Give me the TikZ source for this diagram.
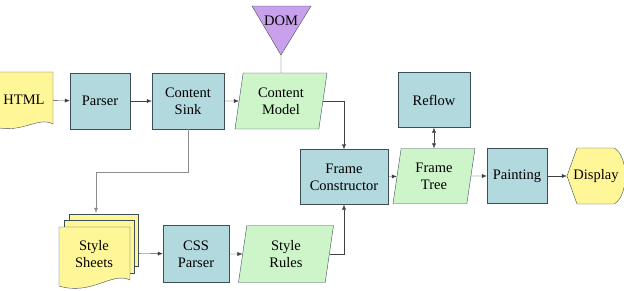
\documentclass[tikz,border=0pt]{standalone}
\usepackage{fontspec}
\setmainfont{Liberation Serif}
\newfontfamily\diagfont{Liberation Serif}
\usetikzlibrary{positioning,calc,shapes.geometric,arrows.meta}
\definecolor{boxblue}{RGB}{178,217,222}
\definecolor{paragreen}{RGB}{206,245,202}
\definecolor{docyellow}{RGB}{255,246,152}
\definecolor{dompurple}{RGB}{200,160,236}
\definecolor{edge}{RGB}{62,78,88}

\begin{document}
\begin{tikzpicture}[x=1pt,y=-1pt,font=\diagfont\fontsize{14.5}{17}\selectfont,
  box/.style={draw=edge,fill=boxblue,minimum width=60pt,minimum height=56pt,align=center,inner sep=0pt},
  para/.style={trapezium,trapezium left angle=73,trapezium right angle=107,trapezium stretches body,
    draw=edge,fill=paragreen,minimum width=92pt,minimum height=56pt,align=center,inner sep=0pt},
  ghost/.style={minimum width=58pt,minimum height=56pt,align=center,inner sep=0pt},
  flow/.style={-{Latex[length=5pt,width=4pt]},draw=black!75},
]
\useasboundingbox (0,0) rectangle (624,290);

% upper row
\draw[edge,fill=docyellow] (-5,72) -- (53,72) -- (53,124) .. controls (38,116) and (22,134) .. (-5,127) -- cycle;
\node[ghost] (html) at (24,100) {HTML};
\node[box] (parser) at (100,101) {Parser};
\node[box,minimum width=72pt] (sink) at (188,101) {Content\\Sink};
\node[para] (model) at (281,101) {Content\\Model};
\draw[edge,fill=dompurple] (252,6) -- (311,6) -- (281,55) -- cycle;
\node (dom) at (281,21) {DOM};
\coordinate (domtip) at (281,55);
\node[box,minimum width=72pt,minimum height=55pt] (reflow) at (434,100) {Reflow};

% middle row
\node[box,minimum width=88pt,minimum height=55pt] (frame) at (344,177) {Frame\\Constructor};
\node[para,minimum width=82pt,minimum height=55pt] (tree) at (434,176) {Frame\\Tree};
\node[box,minimum height=55pt] (paint) at (517,176) {Painting};
\draw[edge,fill=docyellow] (567,176) -- (577,148) -- (614,148) .. controls (629,156) and (629,196) .. (614,204) -- (577,204) -- cycle;
\node[ghost] (display) at (596,176) {Display};

% lower row
\node[box,minimum width=66pt,minimum height=57pt] (cssp) at (196,254) {CSS\\Parser};
\node[para,minimum width=95pt,minimum height=57pt] (rules) at (286,254) {Style\\Rules};
\node[ghost,minimum width=74pt,minimum height=80pt] (sheets) at (96,253) {};

% connectors
\draw[flow] (html) -- (parser);
\draw[flow] (parser) -- (sink);
\draw[flow] (sink) -- (model);
\draw[draw=black!75] (domtip) -- (model.north);
\draw[flow] (model.east) -| (frame.north);
\draw[{Latex[length=5pt,width=4pt]}-{Latex[length=5pt,width=4pt]},draw=black!75] (reflow) -- (tree);
\draw[flow] (frame) -- (tree);
\draw[flow] (tree) -- (paint);
\draw[flow] (paint) -- (display);
\draw[flow,draw=black!45] (sink.south) -- ++(0,43) -| (sheets.north);
\draw[flow] (sheets) -- (cssp);
\draw[flow] (cssp) -- (rules);
\draw[flow] (rules.east) -| (frame.south);

% stacked sheets
\draw[edge,fill=docyellow] (69,214) rectangle (138,266);
\draw[edge,fill=docyellow] (64,220) rectangle (134,273);
\draw[edge,fill=docyellow] (59,227) -- (130,227) -- (130,280) .. controls (112,271) and (92,296) .. (59,286) -- cycle;
\node[align=center] (sheetstext) at (94,254) {Style\\Sheets};
\end{tikzpicture}
\end{document}
